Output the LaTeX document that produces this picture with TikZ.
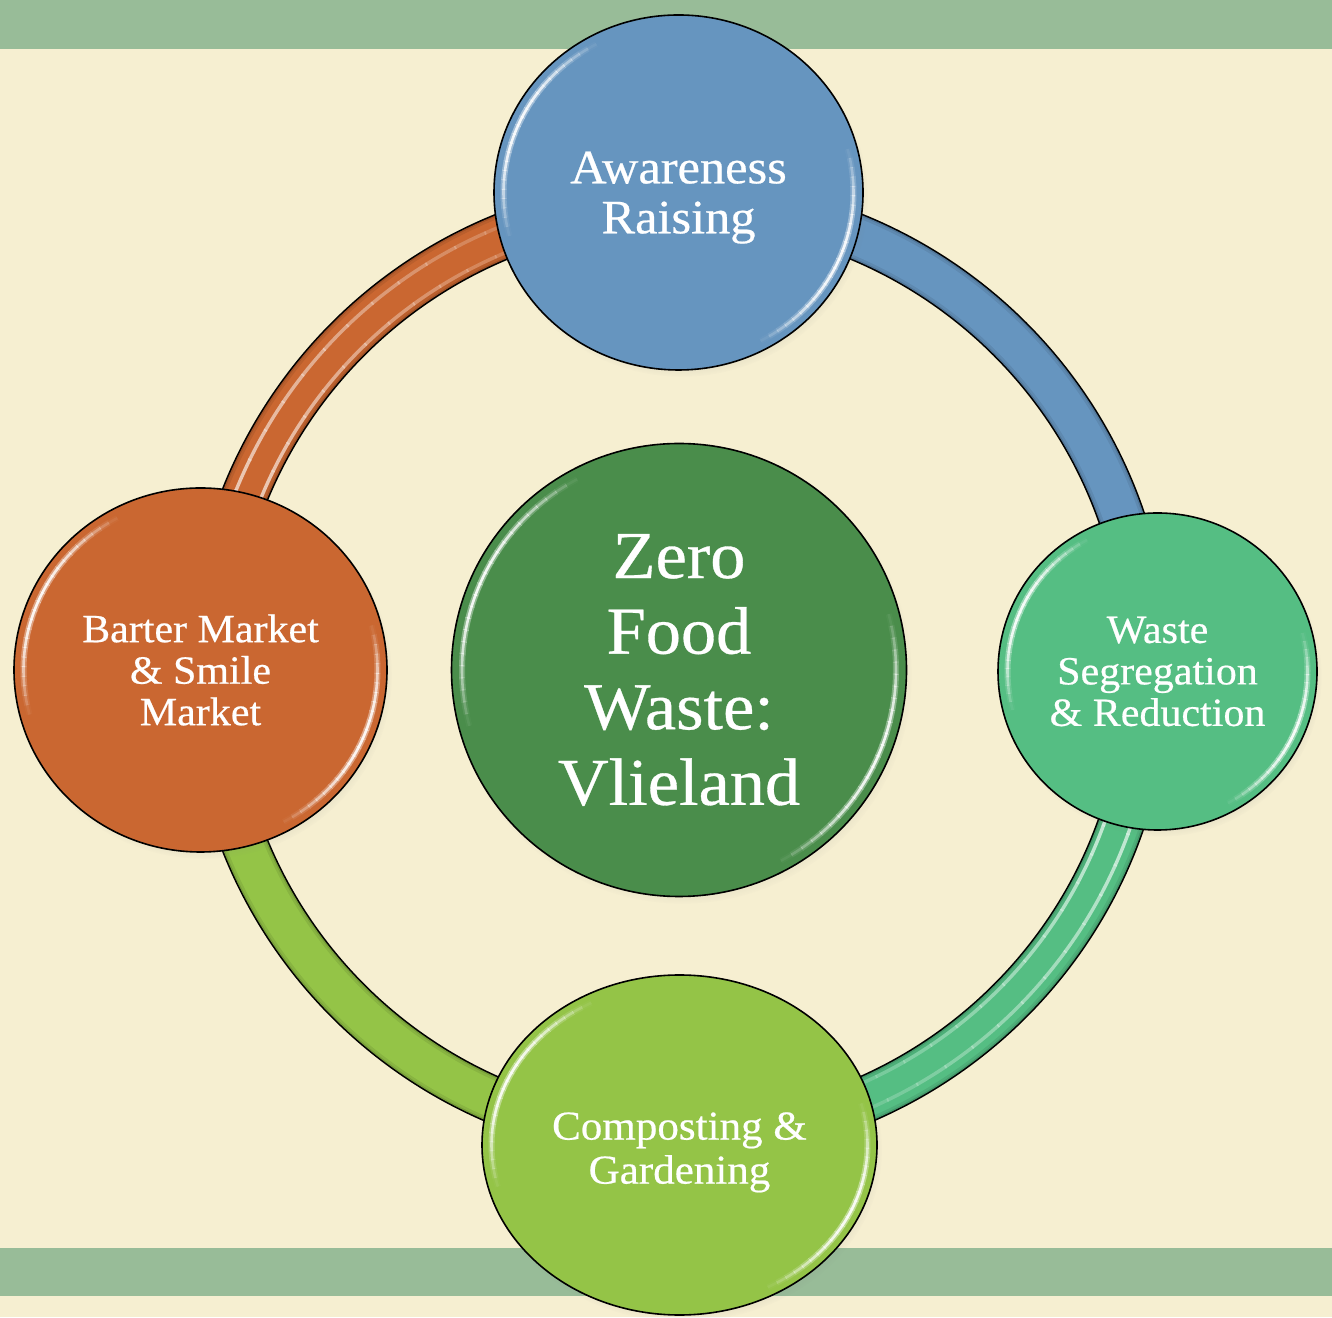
\documentclass[tikz,border=0pt]{standalone}
\usepackage{fontspec}
\setmainfont{Liberation Serif}[FakeStretch=1.05,FakeBold=0.5]
\usetikzlibrary{shapes.geometric,shadows}
\definecolor{bgcream}{HTML}{F6EFD1}
\definecolor{bandgreen}{HTML}{98BC98}
\definecolor{cblue}{HTML}{6695BF}
\definecolor{cdark}{HTML}{4A8D4B}
\definecolor{cteal}{HTML}{55BE83}
\definecolor{clime}{HTML}{94C447}
\definecolor{corange}{HTML}{CA6731}
\pgfdeclarelayer{base}
\pgfdeclarelayer{ring}
\pgfsetlayers{base,ring,main}
\newcommand{\glossrim}[3]{%
  \foreach \s in {0,...,23}{%
    \pgfmathsetmacro{\aa}{118+\s*3.2}%
    \pgfmathsetmacro{\bb}{-62+\s*3.2}%
    \pgfmathsetmacro{\op}{0.9*sin(\s*7.5+3.75)}%
    \draw[white, opacity=\op*0.45, line width=3pt] (#1.center) ++(\aa:#2 and #3) arc[start angle=\aa, delta angle=3.4, x radius=#2, y radius=#3];
    \draw[white, opacity=\op*0.45, line width=3pt] (#1.center) ++(\bb:#2 and #3) arc[start angle=\bb, delta angle=3.4, x radius=#2, y radius=#3];
    \draw[white, opacity=\op, line width=1.3pt] (#1.center) ++(\aa:#2 and #3) arc[start angle=\aa, delta angle=3.4, x radius=#2, y radius=#3];
    \draw[white, opacity=\op, line width=1.3pt] (#1.center) ++(\bb:#2 and #3) arc[start angle=\bb, delta angle=3.4, x radius=#2, y radius=#3];
  }}
\newcommand{\ringarc}[4]{% node, colour, start, end
  \draw[black, line width=23.6pt] (#1.center) ++(#3:468) arc[start angle=#3, end angle=#4, radius=468];
  \draw[#2!80!black, line width=22pt] (#1.center) ++(#3:468) arc[start angle=#3, end angle=#4, radius=468];
  \draw[#2!92!black, line width=20.5pt] (#1.center) ++(#3:468) arc[start angle=#3, end angle=#4, radius=468];
  \draw[#2, line width=18pt] (#1.center) ++(#3:468) arc[start angle=#3, end angle=#4, radius=468];}
\newcommand{\ringstripes}[4]{% node, colour, start angle, step
  \foreach \s in {0,...,15}{%
    \pgfmathsetmacro{\aa}{#3+\s*#4}%
    \pgfmathsetmacro{\op}{0.9*(1-\s/16)}%
    \draw[white!75!#2, opacity=\op, line width=1.7pt] (#1.center) ++(\aa:452) arc[start angle=\aa, delta angle=#4*1.05, radius=452];
    \draw[white!75!#2, opacity=\op, line width=1.7pt] (#1.center) ++(\aa:478) arc[start angle=\aa, delta angle=#4*1.05, radius=478];
  }}
\begin{document}
\begin{tikzpicture}[x=0.5pt,y=0.5pt,
  bubble/.style={ellipse, draw=black, line width=0.8pt, text=white, align=center, inner sep=0pt,
    circular drop shadow={shadow xshift=1.5pt, shadow yshift=-2.5pt, shadow scale=1.01, opacity=0.3}},
  ]
\useasboundingbox (0,0) rectangle (1332,1317);
\begin{pgfonlayer}{base}
\fill[bgcream] (0,0) rectangle (1332,1317);
\fill[bandgreen] (0,1268) rectangle (1332,1317);
\fill[bandgreen] (0,21.5) rectangle (1332,69.5);
\end{pgfonlayer}

\node[bubble, fill=cdark, minimum width=227.5pt, minimum height=226.5pt,
  font=\fontsize{33.5}{37.8}\selectfont] (zfw) at (679,647) {Zero\\Food\\Waste:\\Vlieland};
\node[bubble, fill=cblue, minimum width=184.5pt, minimum height=177.5pt,
  font=\fontsize{24}{25}\selectfont] (aware) at (678.5,1124.5) {\rule{0pt}{21pt}Awareness\\Raising};
\node[bubble, fill=cteal, minimum width=159.5pt, minimum height=158.5pt,
  font=\fontsize{20}{20.75}\selectfont] (waste) at (1157.5,645.5) {Waste\\Segregation\\\& Reduction};
\node[bubble, fill=clime, minimum width=197.5pt, minimum height=170pt,
  font=\fontsize{20.5}{22}\selectfont] (compost) at (679.5,172) {\rule{0pt}{21pt}Composting \&\\Gardening};
\node[bubble, fill=corange, minimum width=186.5pt, minimum height=182pt,
  font=\fontsize{20}{20.75}\selectfont] (barter) at (200.5,647) {Barter Market\\\& Smile\\Market};

\glossrim{zfw}{217}{216}
\glossrim{aware}{175}{168}
\glossrim{waste}{150}{149}
\glossrim{compost}{188}{161}
\glossrim{barter}{177}{172}

\begin{pgfonlayer}{ring}
\ringarc{zfw}{corange}{180}{90}
\ringarc{zfw}{cblue}{90}{0}
\ringarc{zfw}{cteal}{0}{-90}
\ringarc{zfw}{clime}{-90}{-180}
\ringstripes{zfw}{corange}{162}{-4}
\ringstripes{zfw}{cteal}{-16}{-4}
\end{pgfonlayer}
\end{tikzpicture}
\end{document}
